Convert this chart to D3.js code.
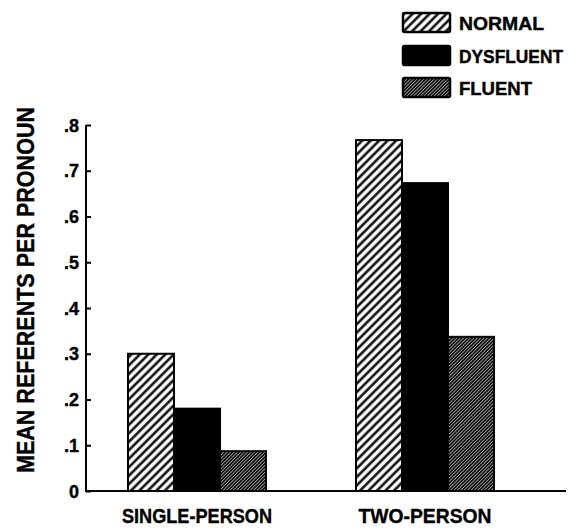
<!DOCTYPE html>
<html><head><meta charset="utf-8">
<script src="https://cdn.jsdelivr.net/npm/d3@7"></script>
<style>body{margin:0;background:#fff}svg{display:block}text{font-family:"Liberation Sans Narrow","Arial Narrow","Liberation Sans",Arial,sans-serif;font-weight:bold;fill:#000;stroke:#000;stroke-width:0.4}</style>
</head><body>
<svg id="c" width="569" height="529"></svg>
<script>
const categories = ["SINGLE-PERSON", "TWO-PERSON"];
const series = ["NORMAL", "DYSFLUENT", "FLUENT"];
const normal = [0.30, 0.767];
const dysfluent = [0.18, 0.673];
const fluent = [0.087, 0.337];
const yTicks = [0, 0.1, 0.2, 0.3, 0.4, 0.5, 0.6, 0.7, 0.8];
const yTickLabels = ["0", ".1", ".2", ".3", ".4", ".5", ".6", ".7", ".8"];
const yTitle = "MEAN REFERENTS PER PRONOUN";

const values = [normal, dysfluent, fluent];
const catWidths = [150, 133];
const legWidths = [85, 104, 73];
const svg = d3.select("#c");
const defs = svg.append("defs");
// coarse hatch (normal)
const p1 = defs.append("pattern").attr("id","hatchN").attr("patternUnits","userSpaceOnUse")
  .attr("width",6).attr("height",6).attr("patternTransform","rotate(45)");
p1.append("rect").attr("width",6).attr("height",6).attr("fill","#fff");
p1.append("line").attr("x1",1.5).attr("y1",0).attr("x2",1.5).attr("y2",6).attr("stroke","#000").attr("stroke-width",2.4);
// fine hatch (fluent): dark with thin white lines
const p2 = defs.append("pattern").attr("id","hatchF").attr("patternUnits","userSpaceOnUse")
  .attr("width",2.4).attr("height",2.4).attr("patternTransform","rotate(45)");
p2.append("rect").attr("width",2.4).attr("height",2.4).attr("fill","#000");
p2.append("line").attr("x1",0.5).attr("y1",0).attr("x2",0.5).attr("y2",2.4).attr("stroke","#fff").attr("stroke-width",0.6);
const fills = ["url(#hatchN)", "#000", "url(#hatchF)"];

const x0 = d3.scaleBand().domain(categories).range([128, 494]).paddingInner(90 / 228).paddingOuter(0);
const x1 = d3.scaleBand().domain(series).range([0, x0.bandwidth()]);
const y = d3.scaleLinear().domain([0, 0.8]).range([491, 125]);

// bars
const g = svg.append("g");
categories.forEach((c, ci) => {
  series.forEach((s, si) => {
    g.append("rect")
      .attr("x", x0(c) + x1(s))
      .attr("y", y(values[si][ci]))
      .attr("width", x1.bandwidth())
      .attr("height", y(0) - y(values[si][ci]))
      .attr("fill", fills[si])
      .attr("stroke", "#000").attr("stroke-width", 2);
  });
});

// y axis
const yAxis = d3.axisRight(y).tickValues(yTicks).tickSize(5).tickFormat(() => "");
const ya = svg.append("g").attr("transform", "translate(86,0)").call(yAxis);
ya.select(".domain").attr("stroke-width", 2).attr("d", "M0," + y(0.8) + "V" + y(0));
ya.selectAll(".tick line").attr("stroke-width", 2);
svg.append("g").selectAll("text").data(yTicks).join("text")
  .attr("x", 79).attr("y", d => y(d) + 6.5).attr("text-anchor", "end")
  .attr("font-size", 18).text((d, i) => yTickLabels[i]);

// baseline
svg.append("line").attr("x1", 85).attr("x2", 566).attr("y1", y(0)).attr("y2", y(0))
  .attr("stroke", "#000").attr("stroke-width", 2);

// category labels
svg.append("g").selectAll("text").data(categories).join("text")
  .attr("x", (d, i) => x0(d) + x0.bandwidth() / 2 - catWidths[i] / 2).attr("y", 523)
  .attr("font-size", 21).attr("textLength", (d, i) => catWidths[i])
  .attr("lengthAdjust", "spacingAndGlyphs").text(d => d);

// y title
svg.append("text").attr("transform", "translate(34,473) rotate(-90)")
  .attr("font-size", 23)
  .attr("textLength", 366).attr("lengthAdjust", "spacingAndGlyphs").text(yTitle);

// legend
const lg = svg.append("g");
const legY = [13, 46, 78];
series.forEach((s, si) => {
  const yy = legY[si];
  lg.append("rect").attr("x", 403).attr("y", yy).attr("width", 47).attr("height", 19)
    .attr("fill", fills[si]).attr("stroke", "#000").attr("stroke-width", 2.5).attr("rx", 1.5);
  lg.append("text").attr("x", 459).attr("y", yy + 17).attr("font-size", 18)
    .attr("textLength", legWidths[si]).attr("lengthAdjust", "spacingAndGlyphs").text(s);
});
</script>
</body></html>
